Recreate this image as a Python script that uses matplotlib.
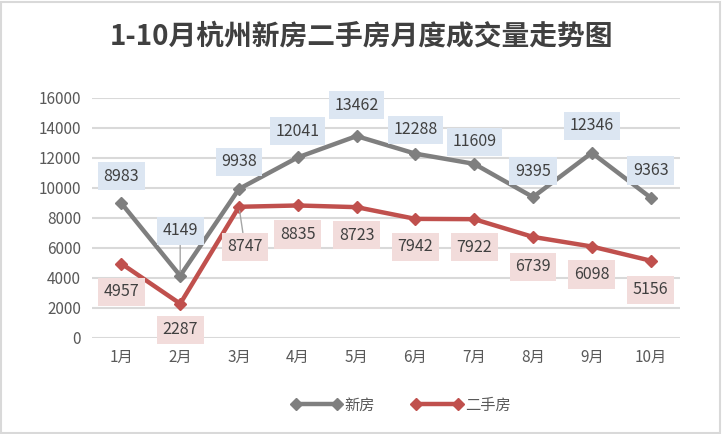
import matplotlib
matplotlib.use("Agg")
import matplotlib.pyplot as plt
from matplotlib.patches import Rectangle

plt.rcParams['font.family'] = ['Noto Sans CJK SC', 'DejaVu Sans']

months = ['1月', '2月', '3月', '4月', '5月', '6月', '7月', '8月', '9月', '10月']
new_house = [8983, 4149, 9938, 12041, 13462, 12288, 11609, 9395, 12346, 9363]
second_house = [4957, 2287, 8747, 8835, 8723, 7942, 7922, 6739, 6098, 5156]

# label offsets in pixels (dx, dy) relative to the point
new_off = [(0, 27), (0, 45), (0, 27), (0, 26), (0, 31), (0, 24), (0, 22), (0, 26), (0, 27), (0, 27)]
sec_off = [(0, -28), (0, -26), (6, -40), (0, -29), (0, -28), (0, -28), (0, -28), (0, -30), (0, -28), (0, -29)]

gray = '#7f7f7f'
red = '#c0504d'
txt = '#404040'

fig = plt.figure(figsize=(7.22, 4.34), dpi=100)
fig.patches.append(Rectangle((0.002, 0.003), 0.995, 0.993, transform=fig.transFigure,
                             fill=False, edgecolor='#d9d9d9', linewidth=1.5))
ax = fig.add_axes([92 / 722, 96 / 434, 588 / 722, 240 / 434])

x = list(range(len(months)))
ax.plot(x, new_house, color=gray, linewidth=3.2, marker='D', markersize=6.5, label='新房', zorder=3)
ax.plot(x, second_house, color=red, linewidth=3.2, marker='D', markersize=6.5, label='二手房', zorder=3)

ax.set_xlim(-0.5, 9.5)
ax.set_ylim(0, 16000)
ax.set_yticks(range(0, 16001, 2000))
ax.set_xticks(x)
ax.set_xticklabels(months)
ax.grid(axis='y', color='#d9d9d9', linewidth=1.5)
ax.set_axisbelow(True)
for s in ax.spines.values():
    s.set_visible(False)
ax.tick_params(length=0, labelsize=11, colors='#595959', pad=8)

def add_labels(vals, offs, face):
    for i, v in enumerate(vals):
        dx, dy = offs[i]
        long_line = abs(dy) > 35
        ax.annotate(str(v), (i, v), xytext=(dx * 0.72, dy * 0.72), textcoords='offset points',
                    ha='center', va='center', fontsize=11.5, color=txt, zorder=4,
                    bbox=dict(boxstyle='square,pad=0.35', fc=face, ec='none'),
                    arrowprops=dict(arrowstyle='-', color='#a6a6a6', lw=1, shrinkA=0, shrinkB=3) if long_line else None)

add_labels(new_house, new_off, '#dce6f2')
add_labels(second_house, sec_off, '#f2dcdb')

fig.text(0.5, 0.915, '1-10月杭州新房二手房月度成交量走势图', ha='center', va='center',
         fontsize=20, fontweight='bold', color=txt)

fig.legend(loc='center', bbox_to_anchor=(401 / 722, 1 - 405 / 434), ncol=2, frameon=False,
           numpoints=2, handlelength=3.3, fontsize=11, labelcolor='#595959', columnspacing=2.4,
           handletextpad=0.2)

fig.savefig('out.png', dpi=100)
